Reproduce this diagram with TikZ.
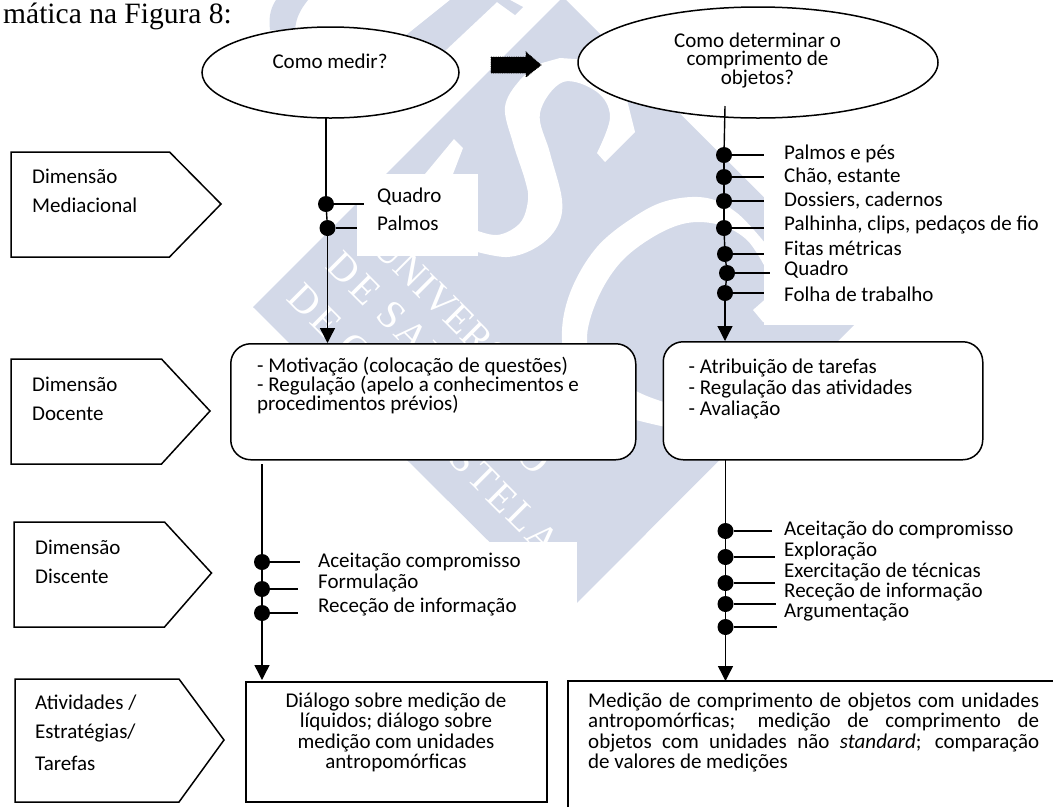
\documentclass[tikz,border=0pt]{standalone}
\usepackage{fontspec}
\setmainfont{Carlito}
\newfontfamily\timesf{Liberation Serif}
\newfontfamily\wmf[LetterSpace=8]{Liberation Serif}
\usetikzlibrary{arrows.meta}
\definecolor{wm}{RGB}{211,217,232}
\tikzset{
 x=1pt,y=-1pt,
 ln/.style={line width=1.4pt,draw=black},
 dotn/.style={circle,fill=black,inner sep=0pt,minimum size=16pt},
 lab/.style={inner sep=0pt,anchor=west,font=\fontsize{21}{20}\selectfont},
 cnt/.style={inner sep=0pt,align=center,font=\fontsize{21}{20.5}\selectfont},
 arr/.style={ln,-{Triangle[length=15pt,width=15pt]}},
 shape box/.style={line width=1.5pt,draw=black,fill=white},
 wmtext/.style={inner sep=0pt,anchor=west,rotate=-45,text=white,font=\wmf\fontsize{40}{40}\selectfont},
 whitepatch/.style={fill=white},
}
\begin{document}
\begin{tikzpicture}
\useasboundingbox (0,0) rectangle (1053,807);
\clip (0,0) rectangle (1053,807);
% watermark
\fill[wm] (563,-3) -- (253,307) -- (564,616) -- (873,306) -- cycle;
\fill[wm] (450,0) -- (510,0) -- (523,7) -- (515,15) -- (497,2) -- (430,65) -- (400,40) -- cycle;
\fill[wm] (270,30) .. controls (268,15) and (272,6) .. (276,0) -- (308,0) .. controls (300,10) and (296,18) .. (295,30) -- cycle;
% S band
\fill[white] plot[smooth,tension=.6] coordinates {(542,63) (520,80) (505,107) (513,143) (525,180) (528,200) (520,223) (497,235) (470,228)}
 -- plot[smooth,tension=.6] coordinates {(470,250) (507,257) (537,247) (557,227) (562,200) (550,153) (540,113) (563,82) (597,92) (610,117) (597,153)}
 -- (605,162) -- (635,132) -- (627,100) -- (590,60) -- (560,58) -- cycle;
% C band
\fill[white] plot[smooth,tension=.6] coordinates {(765,243) (737,213) (707,198) (670,200) (637,215) (597,247) (570,293) (562,340) (575,385) (610,412) (640,421) (670,428)}
 -- plot[smooth,tension=.6] coordinates {(670,404) (640,393) (600,370) (587,340) (597,300) (620,263) (653,237) (687,223) (720,225) (747,240) (765,267)} -- cycle;
\fill[white] (770,295) -- (753,310) -- (763,322) -- (770,322) -- cycle;
% notch
\fill[white] (454,139) -- (463,148) -- (453,174) -- (425,174) -- cycle;
% watermark letters
\node[wmtext,font=\timesf\fontsize{40}{40}\selectfont] (wa) at (380,240) {UNIVERSIDADE};
\node[wmtext] (wb) at (334,258) {DE SANTIAGO};
\node[wmtext] (wc) at (295,290) {DE COMPOSTELA};
% white patches
\fill[whitepatch] (357,174) rectangle (478,256);
\fill[whitepatch] (764,137) rectangle (1053,325);
\fill[whitepatch] (298,542) rectangle (577,628);
% top text
\node[inner sep=0pt,anchor=base east,font=\timesf\fontsize{29.5}{30}\selectfont] (top) at (232,23) {mática na Figura 8:};
% ellipses
\draw[shape box] (330.5,72.5) ellipse [x radius=128.5,y radius=45.5];
\coordinate (e1b) at (326,118);
\node[cnt] (t1) at (330,61) {Como medir?};
\draw[shape box] (758,62.5) ellipse [x radius=180,y radius=55.5];
\coordinate (e2b) at (725,106);
\node[cnt,font=\fontsize{21}{18.5}\selectfont] (t2) at (757.5,60.5) {Como determinar o\\comprimento de\\objetos?};
% block arrow
\draw[fill=black,line width=.8pt,densely dotted] (491,57) -- (526,57) -- (526,52) -- (541,65) -- (526,77) -- (526,73) -- (491,73) -- cycle;
% pentagons
\draw[shape box] (11,152) -- (169.5,152) -- (221,204) -- (169.5,257) -- (11,257) -- cycle;
\node[lab] (p1a) at (32,176) {Dimensão};
\node[lab] (p1b) at (32,205) {Mediacional};
\draw[shape box] (11,359) -- (161.5,359) -- (210,411) -- (161.5,464) -- (11,464) -- cycle;
\node[lab] (p2a) at (32,384) {Dimensão};
\node[lab] (p2b) at (32,414) {Docente};
\draw[shape box] (14,522) -- (164.5,522) -- (211.5,573) -- (164.5,627) -- (14,627) -- cycle;
\node[lab] (p3a) at (35,547) {Dimensão};
\node[lab] (p3b) at (35,576) {Discente};
\draw[shape box] (15,679) -- (179,679) -- (224,740) -- (179,802) -- (15,802) -- cycle;
\node[lab] (p4a) at (35,703) {Atividades /};
\node[lab] (p4b) at (35,733) {Estratégias/};
\node[lab] (p4c) at (35,763) {Tarefas};
% boxes
\node[shape box,rounded corners=20pt,minimum width=405pt,minimum height=116pt,anchor=north west,inner sep=0pt] (b1) at (230,343) {};
\node[shape box,rounded corners=20pt,minimum width=319.5pt,minimum height=118pt,anchor=north west,inner sep=0pt] (b2) at (662.5,341) {};
\node[lab] at (257,367) {- Motivação (colocação de questões)};
\node[lab] at (257,386) {- Regulação (apelo a conhecimentos e};
\node[lab] at (257,405) {procedimentos prévios)};
\node[lab] at (688.5,368) {- Atribuição de tarefas};
\node[lab] at (688.5,389) {- Regulação das atividades};
\node[lab] at (688.5,410) {- Avaliação};
\node[shape box,minimum width=301pt,minimum height=120pt,anchor=north west,inner sep=0pt] (b3) at (245,681) {};
\node[cnt] (b3t) at (396,732.5) {Diálogo sobre medição de\\líquidos; diálogo sobre\\medição com unidades\\antropomórficas};
\draw[line width=1.5pt] (568,807) -- (568,681) -- (1053,681);
\coordinate (b4n) at (725,681);
\node[lab] (b4a) at (588,702) {\makebox[451pt][s]{Medição de comprimento de objetos com unidades}};
\node[lab] (b4b) at (588,722) {\makebox[451pt][s]{antropomórficas; medição de comprimento de}};
\node[lab] (b4c) at (588,743) {\makebox[451pt][s]{objetos com unidades não \textit{standard}; comparação}};
\node[lab] (b4d) at (588,763) {de valores de medições};
% connector: column 1
\node[dotn] (a1) at (326,204) {};
\node[dotn] (a2) at (327.5,228) {};
\draw[ln] (e1b) -- (a1);
\draw[ln] (a1) -- (a2);
\draw[arr] (a2) -- (a2 |- b1.north);
\coordinate (a1e) at (364,204); \coordinate (a2e) at (357,228);
\draw[ln] (a1) -- (a1e); \draw[ln] (a2) -- (a2e);
\node[lab] at (377,197) {Quadro};
\node[lab] at (377,223) {Palmos};
% column 2
\foreach \n/\px/\py/\ex/\ty/\txt in {1/724/155/764/154/Palmos e pés,2/724/177/764/177/{Chão, estante},3/724/201/764/201/{Dossiers, cadernos},4/724/228/764/225/{Palhinha, clips, pedaços de fio},5/725/254/764/248/Fitas métricas,6/727/273/770/270/Quadro,7/725/293/764/294/Folha de trabalho}{
 \node[dotn] (c\n) at (\px,\py) {};
 \coordinate (c\n e) at (\ex,\py);
 \draw[ln] (c\n) -- (c\n e);
 \node[lab] (c\n t) at (784,\ty) {\txt};
}
\draw[ln] (e2b) -- (c1);
\draw[ln] (c1) -- (c2); \draw[ln] (c2) -- (c3); \draw[ln] (c3) -- (c4); \draw[ln] (c4) -- (c5); \draw[ln] (c5) -- (c6); \draw[ln] (c6) -- (c7);
\draw[arr] (c7) -- (c7 |- b2.north);
% column 3
\foreach \n/\py/\ex/\ty/\txt in {1/562/300/562/Aceitação compromisso,2/589/298/583/Formulação,3/613/298/607/Receção de informação}{
 \node[dotn] (d\n) at (262,\py) {};
 \coordinate (d\n e) at (\ex,\py);
 \draw[ln] (d\n) -- (d\n e);
 \node[lab] (d\n t) at (318,\ty) {\txt};
}
\coordinate (b1s) at (262,464);
\draw[ln] (b1s) -- (d1); \draw[ln] (d1) -- (d2); \draw[ln] (d2) -- (d3);
\coordinate (b3n) at (262,680);
\draw[arr] (d3) -- (b3n);
% column 4
\foreach \n/\py/\ex/\ty/\txt in {1/531/772/530/Aceitação do compromisso,2/557/775/551/Exploração,3/583/775/572/Exercitação de técnicas,4/604/776/592/Receção de informação,5/627/777/612/Argumentação}{
 \node[dotn] (f\n) at (725.5,\py) {};
 \coordinate (f\n e) at (\ex,\py);
 \draw[ln] (f\n) -- (f\n e);
 \node[lab] (f\n t) at (784,\ty) {\txt};
}
\coordinate (b2s) at (725.5,459);
\draw[ln] (b2s) -- (f1); \draw[ln] (f1) -- (f2); \draw[ln] (f2) -- (f3); \draw[ln] (f3) -- (f4); \draw[ln] (f4) -- (f5);
\draw[arr] (f5) -- (f5 |- b4n);
\end{tikzpicture}
\end{document}
